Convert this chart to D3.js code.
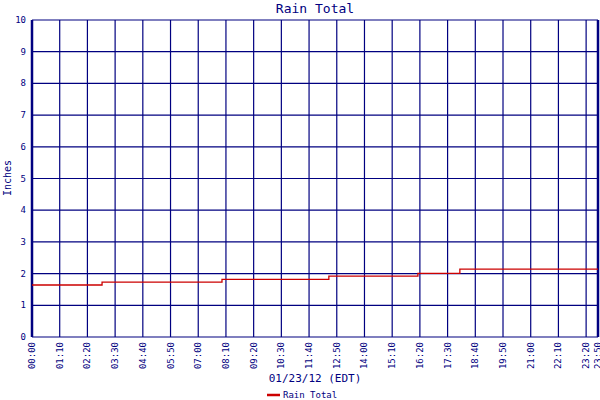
<!DOCTYPE html>
<html><head><meta charset="utf-8">
<script src="https://cdn.jsdelivr.net/npm/d3@7"></script>
<style>body{margin:0;background:#fff}text{font-family:"DejaVu Sans Mono",monospace;fill:#000080}</style>
</head><body><div id="chart"></div>
<script>
// step times (minutes after midnight) and rain totals (inches)
const stepMinutes = [0, 177, 480, 750, 975, 1081, 1430];
const rainTotal = [1.64, 1.73, 1.82, 1.92, 2.01, 2.14, 2.14];
const xTicks = ["00:00","01:10","02:20","03:30","04:40","05:50","07:00","08:10","09:20","10:30","11:40","12:50","14:00","15:10","16:20","17:30","18:40","19:50","21:00","22:10","23:20","23:50"];
const yTicks = [0,1,2,3,4,5,6,7,8,9,10];

const navy = "#000080";
const svg = d3.select("#chart").append("svg").attr("width", 600).attr("height", 400);

const toMin = s => +s.slice(0,2) * 60 + +s.slice(3);
const x = d3.scaleLinear().domain([0, 1430]).range([32, 598]);
const y = d3.scaleLinear().domain([0, 10]).range([337, 20]);

// grid
svg.append("g").selectAll("line").data(xTicks).join("line")
    .attr("x1", d => x(toMin(d))).attr("x2", d => x(toMin(d)))
    .attr("y1", y(0)).attr("y2", y(10))
    .attr("stroke", navy).attr("stroke-width", 1.2);
svg.append("g").selectAll("line").data(yTicks).join("line")
    .attr("x1", x(0)).attr("x2", x(1430))
    .attr("y1", d => y(d)).attr("y2", d => y(d))
    .attr("stroke", navy).attr("stroke-width", 1.2);
svg.append("line").attr("x1", x(0)).attr("x2", x(0)).attr("y1", y(0)).attr("y2", y(10)).attr("stroke", navy).attr("stroke-width", 2.5);
svg.append("line").attr("x1", x(1430)).attr("x2", x(1430)).attr("y1", y(0)).attr("y2", y(10)).attr("stroke", navy).attr("stroke-width", 2.5);

// y labels
svg.append("g").selectAll("text").data(yTicks).join("text")
    .attr("x", 26).attr("y", d => y(d) + 3).attr("text-anchor", "end")
    .attr("font-size", 9).text(d => d);

// x labels
svg.append("g").selectAll("text").data(xTicks).join("text")
    .attr("transform", d => `translate(${x(toMin(d)) + 3},342) rotate(-90)`)
    .attr("text-anchor", "end").attr("font-size", 9).text(d => d);

// line
const pts = stepMinutes.map((m, i) => [m, rainTotal[i]]);
svg.append("path").datum(pts)
    .attr("d", d3.line().x(d => x(d[0])).y(d => y(d[1])).curve(d3.curveStepAfter))
    .attr("fill", "none").attr("stroke", "#cc0000").attr("stroke-width", 1.3);

svg.append("text").attr("x", 315).attr("y", 13).attr("text-anchor", "middle").attr("font-size", 13).text("Rain Total");
svg.append("text").attr("transform", "translate(11,178) rotate(-90)").attr("text-anchor", "middle").attr("font-size", 10).text("Inches");
svg.append("text").attr("x", 315).attr("y", 382).attr("text-anchor", "middle").attr("font-size", 11).text("01/23/12 (EDT)");
svg.append("line").attr("x1", 267).attr("x2", 280).attr("y1", 395).attr("y2", 395).attr("stroke", "#cc0000").attr("stroke-width", 2.5);
svg.append("text").attr("x", 283).attr("y", 398).attr("font-size", 9).text("Rain Total");
</script></body></html>
